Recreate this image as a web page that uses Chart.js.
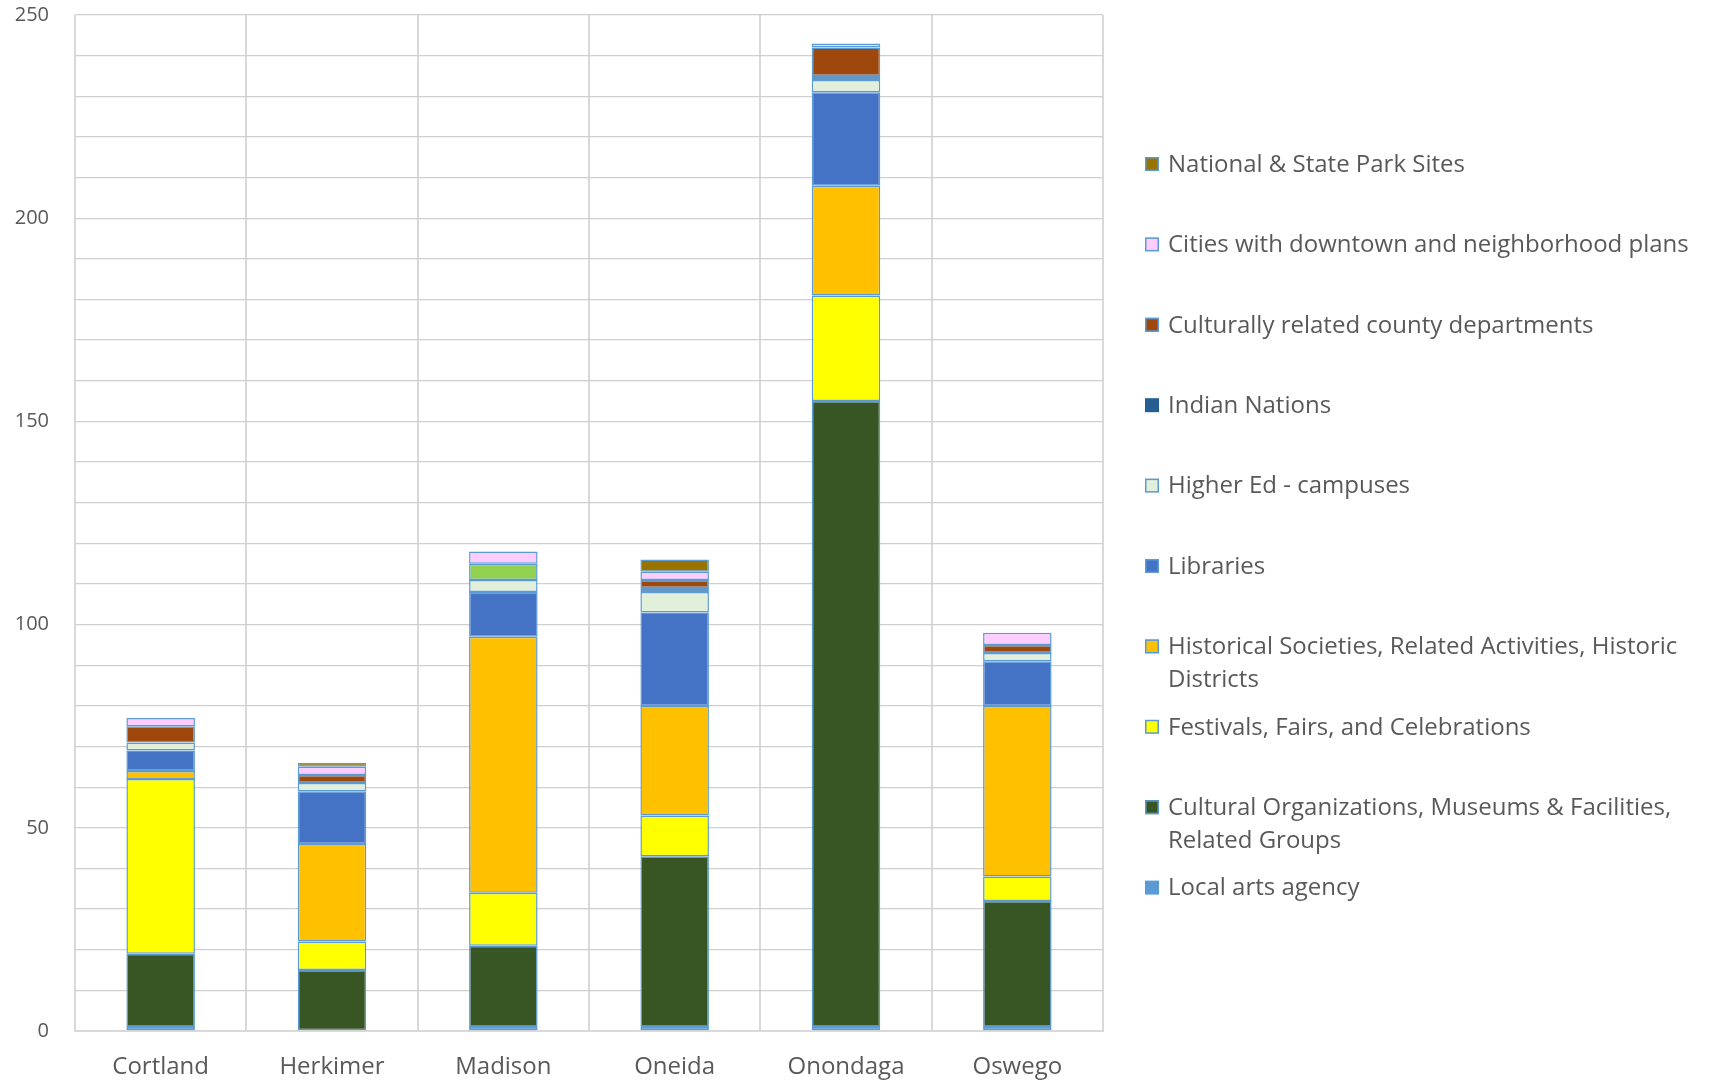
<!DOCTYPE html>
<html>
<head>
<meta charset="utf-8">
<title>Cultural resources by county</title>
<script src="https://cdn.jsdelivr.net/npm/chart.js@4.4.1/dist/chart.umd.min.js"></script>
<style>
  html, body { margin: 0; padding: 0; background: #ffffff; }
  canvas { display: block; }
</style>
</head>
<body>
<canvas id="chart" width="1711" height="1084"></canvas>
<script>
// Counties along the x axis
const counties = ['Cortland', 'Herkimer', 'Madison', 'Oneida', 'Onondaga', 'Oswego'];

// Counts per county, listed from the bottom of each stack to the top
const localArts     = [1, null, 1, 1, 1, 1];
const culturalOrgs  = [18, 15, 20, 42, 154, 31];
const festivals     = [43, 7, 13, 10, 26, 6];
const historical    = [2, 24, 63, 27, 27, 42];
const libraries     = [5, 13, 11, 23, 23, 11];
const higherEd      = [2, 2, 3, 5, 3, 2];
const indianNations = [null, null, null, 1, 1, null];
const countyDepts   = [4, 2, null, 2, 7, 2];
const otherSites    = [null, null, 4, null, null, null];
const cities        = [2, 2, 3, 2, 1, 3];
const parkSites     = [null, 1, null, 3, null, null];

const EDGE = '#5b9bd5';
const TEXT = '#595959';
const FONT = '"Open Sans", Lato, sans-serif';

function series(label, data, color, opts) {
    return Object.assign({
        label: label.join(' '),
        lines: label,
        data: data,
        backgroundColor: color,
        borderColor: EDGE,
        borderWidth: 1.5,
        borderSkipped: false,
        boxBorder: true,
        inLegend: true,
    }, opts || {});
}

const datasets = [
    series(['Local arts agency'], localArts, '#5b9bd5', { boxBorder: false }),
    series(['Cultural Organizations, Museums & Facilities,', 'Related Groups'], culturalOrgs, '#375623'),
    series(['Festivals, Fairs, and Celebrations'], festivals, '#ffff00'),
    series(['Historical Societies, Related Activities, Historic', 'Districts'], historical, '#ffc000'),
    series(['Libraries'], libraries, '#4472c4'),
    series(['Higher Ed - campuses'], higherEd, '#e2efda'),
    series(['Indian Nations'], indianNations, '#255e91', { boxBorder: false }),
    series(['Culturally related county departments'], countyDepts, '#9e480e'),
    series(['Other'], otherSites, '#92d050', { inLegend: false }),
    series(['Cities with downtown and neighborhood plans'], cities, '#ffccff'),
    series(['National & State Park Sites'], parkSites, '#997300'),
];

// Legend drawn down the right side, top entry = last series
const sideLegend = {
    id: 'sideLegend',
    afterDraw(chart) {
        const ctx = chart.ctx;
        const items = chart.data.datasets.filter(ds => ds.inLegend).reverse();
        ctx.save();
        ctx.font = '24px ' + FONT;
        ctx.textBaseline = 'middle';
        items.forEach((ds, i) => {
            const y = 164 + i * 80.4;
            ctx.fillStyle = ds.backgroundColor;
            ctx.fillRect(1145, y - 7, 14, 14);
            if (ds.boxBorder) {
                ctx.strokeStyle = EDGE;
                ctx.lineWidth = 1.5;
                ctx.strokeRect(1145.75, y - 6.25, 12.5, 12.5);
            }
            ctx.fillStyle = TEXT;
            ds.lines.forEach((line, j) => ctx.fillText(line, 1168, y + 1 + j * 33));
        });
        ctx.restore();
    }
};

new Chart(document.getElementById('chart'), {
    type: 'bar',
    data: { labels: counties, datasets: datasets },
    plugins: [sideLegend],
    options: {
        responsive: false,
        animation: false,
        layout: { padding: { left: 0, top: 15, right: 608, bottom: 0 } },
        datasets: { bar: { barPercentage: 0.4, categoryPercentage: 1 } },
        plugins: {
            legend: { display: false },
            tooltip: { enabled: false },
        },
        scales: {
            x: {
                stacked: true,
                grid: { color: '#d9d9d9', lineWidth: 2, drawTicks: false, offset: true },
                border: { color: '#d9d9d9', width: 2 },
                ticks: { color: TEXT, font: { family: FONT, size: 24 }, padding: 22 },
                afterFit: (scale) => { scale.height = 53; },
            },
            y: {
                stacked: true,
                min: 0,
                max: 250,
                grid: { color: '#cfcfcf', lineWidth: 1.3, drawTicks: false },
                border: { display: false },
                ticks: {
                    stepSize: 10,
                    color: TEXT,
                    font: { family: FONT, size: 20 },
                    padding: 26,
                    callback: (v) => (v % 50 === 0 ? v : ''),
                },
                afterFit: (scale) => {
                    scale.width = 75;
                    scale.paddingTop = 0;
                    scale.paddingBottom = 0;
                },
            },
        },
    },
});
</script>
</body>
</html>
